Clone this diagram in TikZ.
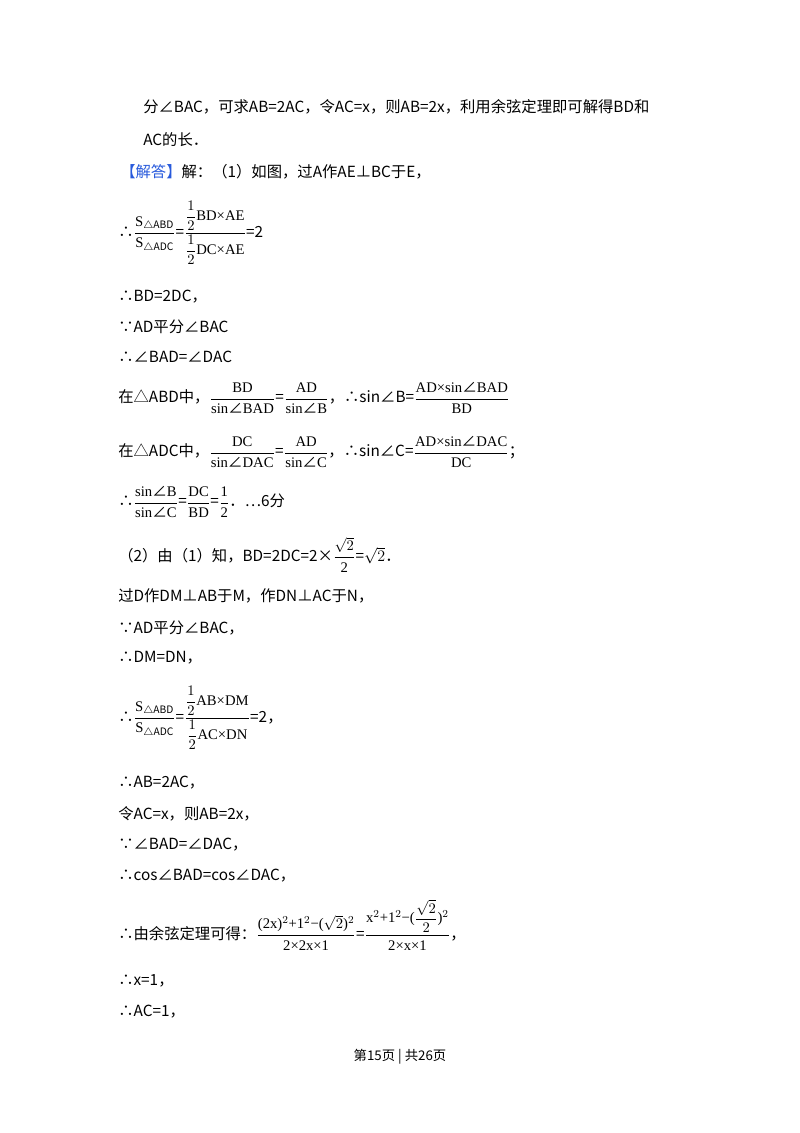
\documentclass[tikz,border=0pt]{standalone}
\usepackage{amsmath}
\usepackage{fontspec}
\setmainfont{Noto Sans CJK SC}
\newfontfamily\tms{Liberation Serif}
\usetikzlibrary{positioning}
\definecolor{ansblue}{RGB}{40,90,220}
\newcommand{\fr}[2]{$\dfrac{\text{\tms\fontsize{11}{13}\selectfont #1}}{\text{\tms\fontsize{11}{13}\selectfont #2}}$}
\newcommand{\hf}{$\dfrac{1}{2}$}
\newcommand{\ang}{{\rmfamily ∠}}
\tikzset{
  line/.style={anchor=west, inner sep=0pt, font=\fontsize{11.5}{14}\selectfont},
  foot/.style={inner sep=0pt, font=\fontsize{10}{12}\selectfont}
}
\begin{document}
\begin{tikzpicture}[x=0.75pt,y=-0.75pt]
  \useasboundingbox[fill=white] (0,0) rectangle (800,1133);
  \node[line] (l1) at (143,107) {分∠BAC，可求AB=2AC，令AC=x，则AB=2x，利用余弦定理即可解得BD和};
  \node[line] (l2) at (143,140) {AC的长．};
  \node[line] (l3) at (120,172) {\textcolor{ansblue}{【解答】}解：（1）如图，过A作AE⊥BC于E，};
  \node[line] (l4) at (118,233) {∴\fr{S$_{\triangle\mathrm{ABD}}$}{S$_{\triangle\mathrm{ADC}}$}=\fr{\hf BD×AE}{\hf DC×AE}=2};
  \node[line] (l5) at (118,297) {∴BD=2DC，};
  \node[line] (l6) at (118,327) {∵AD平分∠BAC};
  \node[line] (l7) at (118,357) {∴∠BAD=∠DAC};
  \node[line] (l8) at (118,398) {在△ABD中，\fr{BD}{sin\ang BAD}=\fr{AD}{sin\ang B}，∴sin∠B=\fr{AD×sin\ang BAD}{BD}};
  \node[line] (l9) at (118,452) {在△ADC中，\fr{DC}{sin\ang DAC}=\fr{AD}{sin\ang C}，∴sin∠C=\fr{AD×sin\ang DAC}{DC}；};
  \node[line] (l10) at (118,502) {∴\fr{sin\ang B}{sin\ang C}=\fr{DC}{BD}=\fr{1}{2}．…6分};
  \node[line] (l11) at (118,555) {（2）由（1）知，BD=2DC=2×\fr{$\sqrt{2}$}{2}=$\sqrt{2}$．};
  \node[line] (l12) at (118,596) {过D作DM⊥AB于M，作DN⊥AC于N，};
  \node[line] (l13) at (118,628) {∵AD平分∠BAC，};
  \node[line] (l14) at (118,658) {∴DM=DN，};
  \node[line] (l15) at (118,718) {∴\fr{S$_{\triangle\mathrm{ABD}}$}{S$_{\triangle\mathrm{ADC}}$}=\fr{\hf AB×DM}{\hf AC×DN}=2，};
  \node[line] (l16) at (118,783) {∴AB=2AC，};
  \node[line] (l17) at (118,814) {令AC=x，则AB=2x，};
  \node[line] (l18) at (118,845) {∵∠BAD=∠DAC，};
  \node[line] (l19) at (118,876) {∴cos∠BAD=cos∠DAC，};
  \node[line] (l20) at (118,925) {∴由余弦定理可得：\fr{(2x)$^2$+1$^2$−($\sqrt{2}$)$^2$}{2×2x×1}=\fr{x$^2$+1$^2$−($\dfrac{\sqrt{2}}{2}$)$^2$}{2×x×1}，};
  \node[line] (l21) at (118,981) {∴x=1，};
  \node[line] (l22) at (118,1012) {∴AC=1，};
  \node[foot] (pg) at (400,1057) {第15页 | 共26页};
\end{tikzpicture}
\end{document}
